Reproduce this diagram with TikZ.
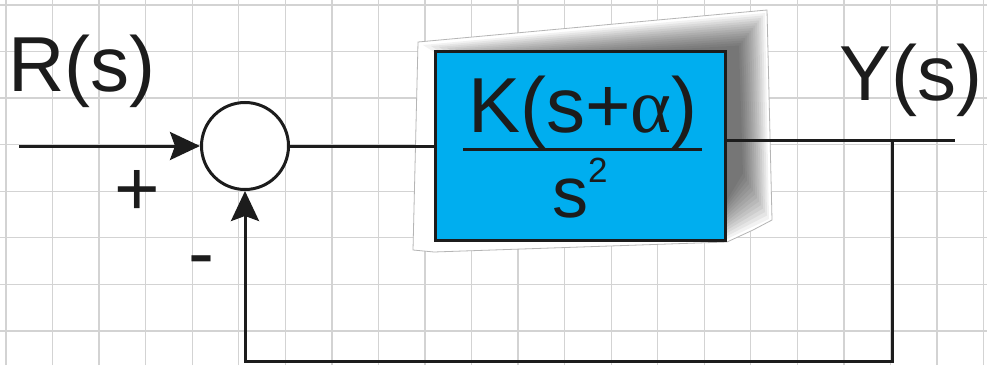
\documentclass[tikz,border=0pt]{standalone}
\usepackage{fontspec}
\setmainfont{Liberation Sans}
\newfontfamily\greekfont{Liberation Serif}
\usetikzlibrary{positioning,arrows.meta,calc}
\definecolor{bdLine}{HTML}{1C1C1C}
\definecolor{bdGrid}{HTML}{D3D3D3}
\definecolor{bdBlock}{HTML}{00AEEF}
\definecolor{bdHalo}{HTML}{B5B5B5}

\begin{document}
\begin{tikzpicture}[
  x=1pt, y=1pt,
  every node/.style={inner sep=0pt},
  sig/.style={draw=bdLine, line width=3pt},
  flow/.style={sig, -{Stealth[length=30pt,width=28pt,inset=5pt]}},
  sumpt/.style={circle, draw=bdLine, line width=3pt, fill=white, minimum size=87pt},
  block/.style={
    rectangle, draw=bdLine, line width=3pt, fill=bdBlock,
    minimum width=290pt, minimum height=189pt
  },
  big/.style={font=\fontsize{78}{80}\selectfont, text=bdLine},
  small/.style={font=\fontsize{35}{37}\selectfont, text=bdLine}
]

% ---- grid -----------------------------------------------------------------
\useasboundingbox (0,0) rectangle (987,365);
\fill[white] (0,0) rectangle (987,365);
\foreach \k in {0,...,21}
  \draw[bdGrid, line width=1.3pt] ({6+46.55*\k},0) -- ({6+46.55*\k},365);
\foreach \k in {0,...,7}
  \draw[bdGrid, line width=1.3pt] (0,{360-46.55*\k}) -- (987,{360-46.55*\k});

% ---- shadow ---------------------------------------------------------------
\filldraw[fill=white, draw=bdHalo, line width=0.8pt]
  (413,115) -- (418,323) -- (767,355) -- (772,145) -- (753,135) -- (727,123) -- (434,113) -- cycle;
\foreach \i in {0,...,13}
  \fill[black, opacity=0.05]
    ({423+8*\i},{320-\i}) -- ({765-2*\i},{352-2.5*\i}) -- ({769-2*\i},{146+3.5*\i}) -- (727,{126+3*\i}) -- cycle;

% ---- blocks ---------------------------------------------------------------
\node[sumpt] (sum) at (245,219) {};
\node[block] (plant) at (580.5,219) {};

\node[big, anchor=base] (num) at (583,233) {K(s+{\greekfont α})};
\node[big, anchor=base, font=\fontsize{72}{74}\selectfont] (den) at (570,148) {s};
\node[small, anchor=base west] (pow) at (588,183) {2};
\draw[sig] (463,216) -- (702,216);

% ---- labels ---------------------------------------------------------------
\node[big, anchor=base west] (rin) at (8,273) {R(s)};
\node[big, anchor=base west] (yout) at (839,265) {Y(s)};
\node[big] (plus) at (137,172) {+};
\node[big] (minus) at (201,97) {-};

% ---- signals --------------------------------------------------------------
\coordinate (rstart) at (19,219);
\coordinate (yend) at (955,225);
\coordinate (tap) at (892,225);
\coordinate (fbase) at (892,4);

\draw[flow] (rstart) -- (sum.west);
\draw[sig] (sum.east) -- (plant.west);
\draw[sig] (plant.east |- tap) -- (yend);
\draw[flow] (tap) -- (fbase) -| (sum.south);

\end{tikzpicture}
\end{document}
